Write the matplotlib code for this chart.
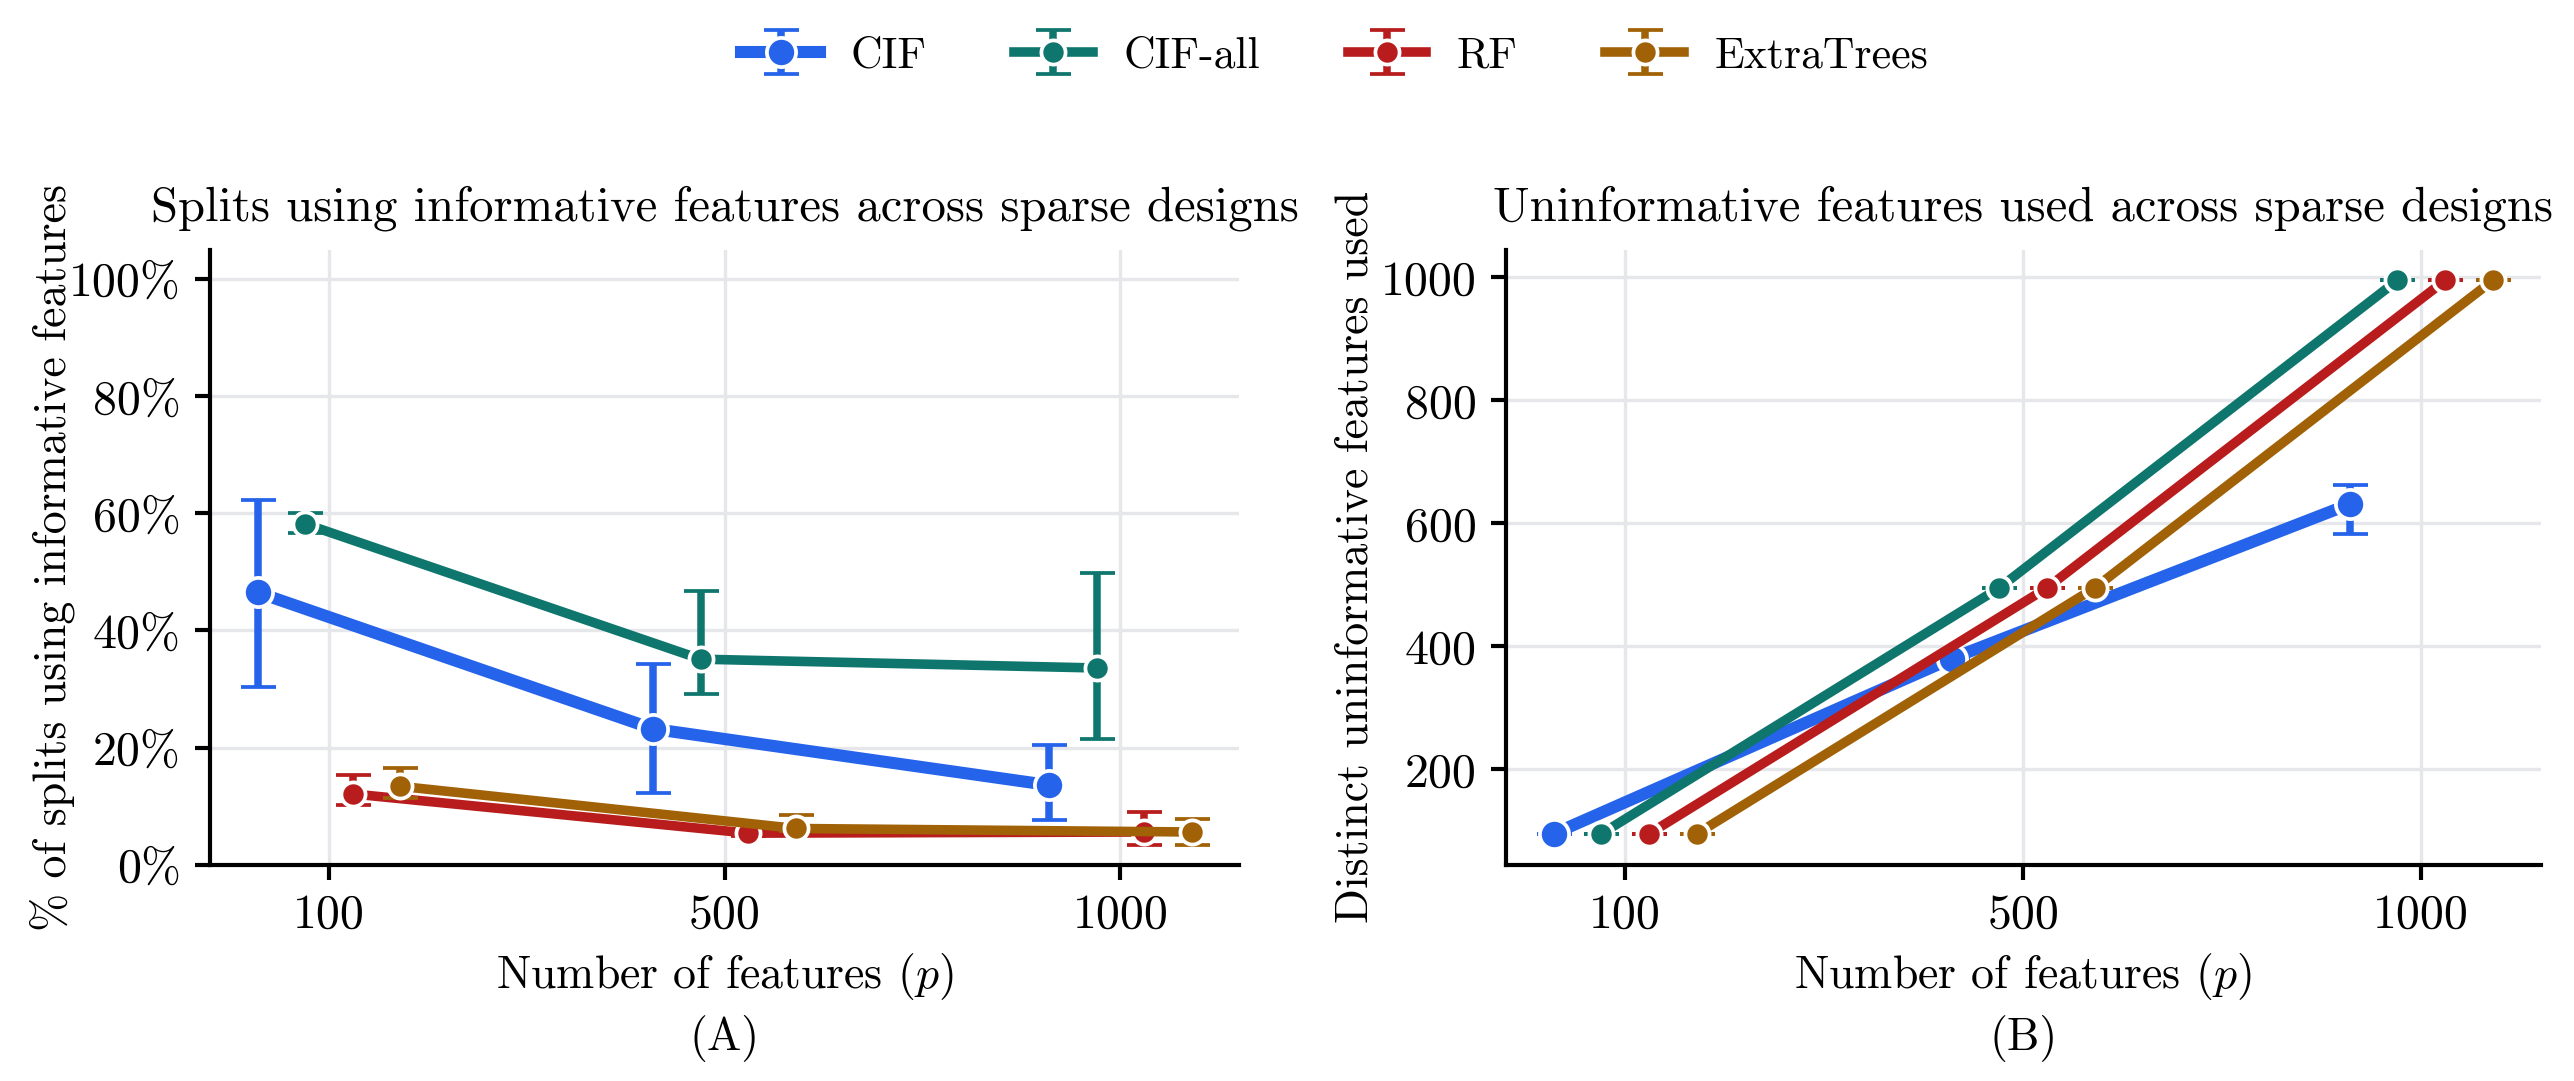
import matplotlib
matplotlib.use("Agg")
import matplotlib.pyplot as plt
import numpy as np

plt.rcParams['font.family'] = 'serif'
plt.rcParams['font.serif'] = ['cmr10', 'DejaVu Serif']
plt.rcParams['mathtext.fontset'] = 'cm'
plt.rcParams['axes.formatter.use_mathtext'] = True
plt.rcParams['axes.unicode_minus'] = False

# ---------------- data ----------------
p_labels = ["100", "500", "1000"]
methods = ["CIF", "CIF-all", "RF", "ExtraTrees"]
colors = ["#2563EB", "#0F766E", "#B91C1C", "#A16207"]

# Panel A: fraction of splits using informative features (mean, low, high)
a_mean = {
    "CIF":        [0.465, 0.232, 0.136],
    "CIF-all":    [0.582, 0.351, 0.336],
    "RF":         [0.121, 0.054, 0.056],
    "ExtraTrees": [0.134, 0.062, 0.056],
}
a_low = {
    "CIF":        [0.303, 0.123, 0.076],
    "CIF-all":    [0.566, 0.291, 0.215],
    "RF":         [0.102, 0.049, 0.033],
    "ExtraTrees": [0.114, 0.058, 0.034],
}
a_high = {
    "CIF":        [0.623, 0.343, 0.204],
    "CIF-all":    [0.600, 0.468, 0.498],
    "RF":         [0.153, 0.058, 0.090],
    "ExtraTrees": [0.165, 0.085, 0.079],
}

# Panel B: distinct uninformative features used (mean, low, high)
b_mean = {
    "CIF":        [95, 380, 631],
    "CIF-all":    [95, 495, 995],
    "RF":         [95, 495, 995],
    "ExtraTrees": [95, 495, 995],
}
b_low = {
    "CIF":        [95, 378, 582],
    "CIF-all":    [95, 495, 995],
    "RF":         [95, 495, 995],
    "ExtraTrees": [95, 495, 995],
}
b_high = {
    "CIF":        [95, 382, 662],
    "CIF-all":    [95, 495, 995],
    "RF":         [95, 495, 995],
    "ExtraTrees": [95, 495, 995],
}

offsets = [-0.18, -0.06, 0.06, 0.18]
lws = [2.9, 2.3, 2.3, 2.3]
mss = [7.0, 5.8, 5.8, 5.8]

W, H, DPI = 2574, 1081, 300
fig = plt.figure(figsize=(W / DPI, H / DPI), dpi=DPI)
axA = fig.add_axes([0.0816, 0.200, 0.3998, 0.569])
axB = fig.add_axes([0.585, 0.200, 0.402, 0.569])

FS = 11
TFS = 11.5
grid_c = "#E5E7EB"


def draw(ax, mean, low, high):
    handles = []
    x0 = np.arange(len(p_labels))
    for i, m in enumerate(methods):
        x = x0 + offsets[i]
        y = np.array(mean[m], dtype=float)
        lo = y - np.array(low[m], dtype=float)
        hi = np.array(high[m], dtype=float) - y
        h = ax.errorbar(x, y, yerr=[lo, hi], color=colors[i], lw=lws[i],
                        elinewidth=1.8, capsize=4.2, capthick=1.8,
                        marker='o', ms=mss[i], mec='white', mew=0.9,
                        zorder=3 + i, label=m)
        handles.append(h)
    ax.set_xticks(x0)
    ax.set_xticklabels(p_labels)
    ax.set_xlim(-0.3, 2.3)
    ax.grid(True, color=grid_c, lw=0.8)
    ax.set_axisbelow(True)
    for s in ["top", "right"]:
        ax.spines[s].set_visible(False)
    for s in ["left", "bottom"]:
        ax.spines[s].set_linewidth(1.0)
    ax.tick_params(direction='out', length=3.5, width=1.0, labelsize=TFS)
    ax.set_xlabel(r"Number of features ($p$)", fontsize=FS, labelpad=3)
    return handles


handles = draw(axA, a_mean, a_low, a_high)
axA.set_ylim(0, 1.05)
yt = [0, 0.2, 0.4, 0.6, 0.8, 1.0]
axA.set_yticks(yt)
axA.set_yticklabels([f"{int(round(v * 100))}%" for v in yt])
axA.set_ylabel("% of splits using informative features", fontsize=FS)
axA.yaxis.set_label_coords(-0.131, 0.5)
axA.set_title("Splits using informative features across sparse designs", fontsize=11.7, pad=7)
axA.text(0.5, -0.283, "(A)", transform=axA.transAxes, ha='center', va='center', fontsize=FS)

draw(axB, b_mean, b_low, b_high)
axB.set_ylim(44.6, 1045)
axB.set_yticks([200, 400, 600, 800, 1000])
axB.set_yticklabels(["200", "400", "600", "800", "1000"])
axB.set_ylabel("Distinct uninformative features used", fontsize=FS)
axB.yaxis.set_label_coords(-0.125, 0.5)
axB.set_title("Uninformative features used across sparse designs", fontsize=11.7, pad=7)
axB.text(0.5, -0.283, "(B)", transform=axB.transAxes, ha='center', va='center', fontsize=FS)

fig.legend(handles=handles, labels=methods, loc='center',
           bbox_to_anchor=(0.5186, 0.948), ncol=4, frameon=False, fontsize=10.5,
           handlelength=1.8, columnspacing=2.0, handletextpad=0.7)

fig.savefig("out.png", dpi=DPI)
